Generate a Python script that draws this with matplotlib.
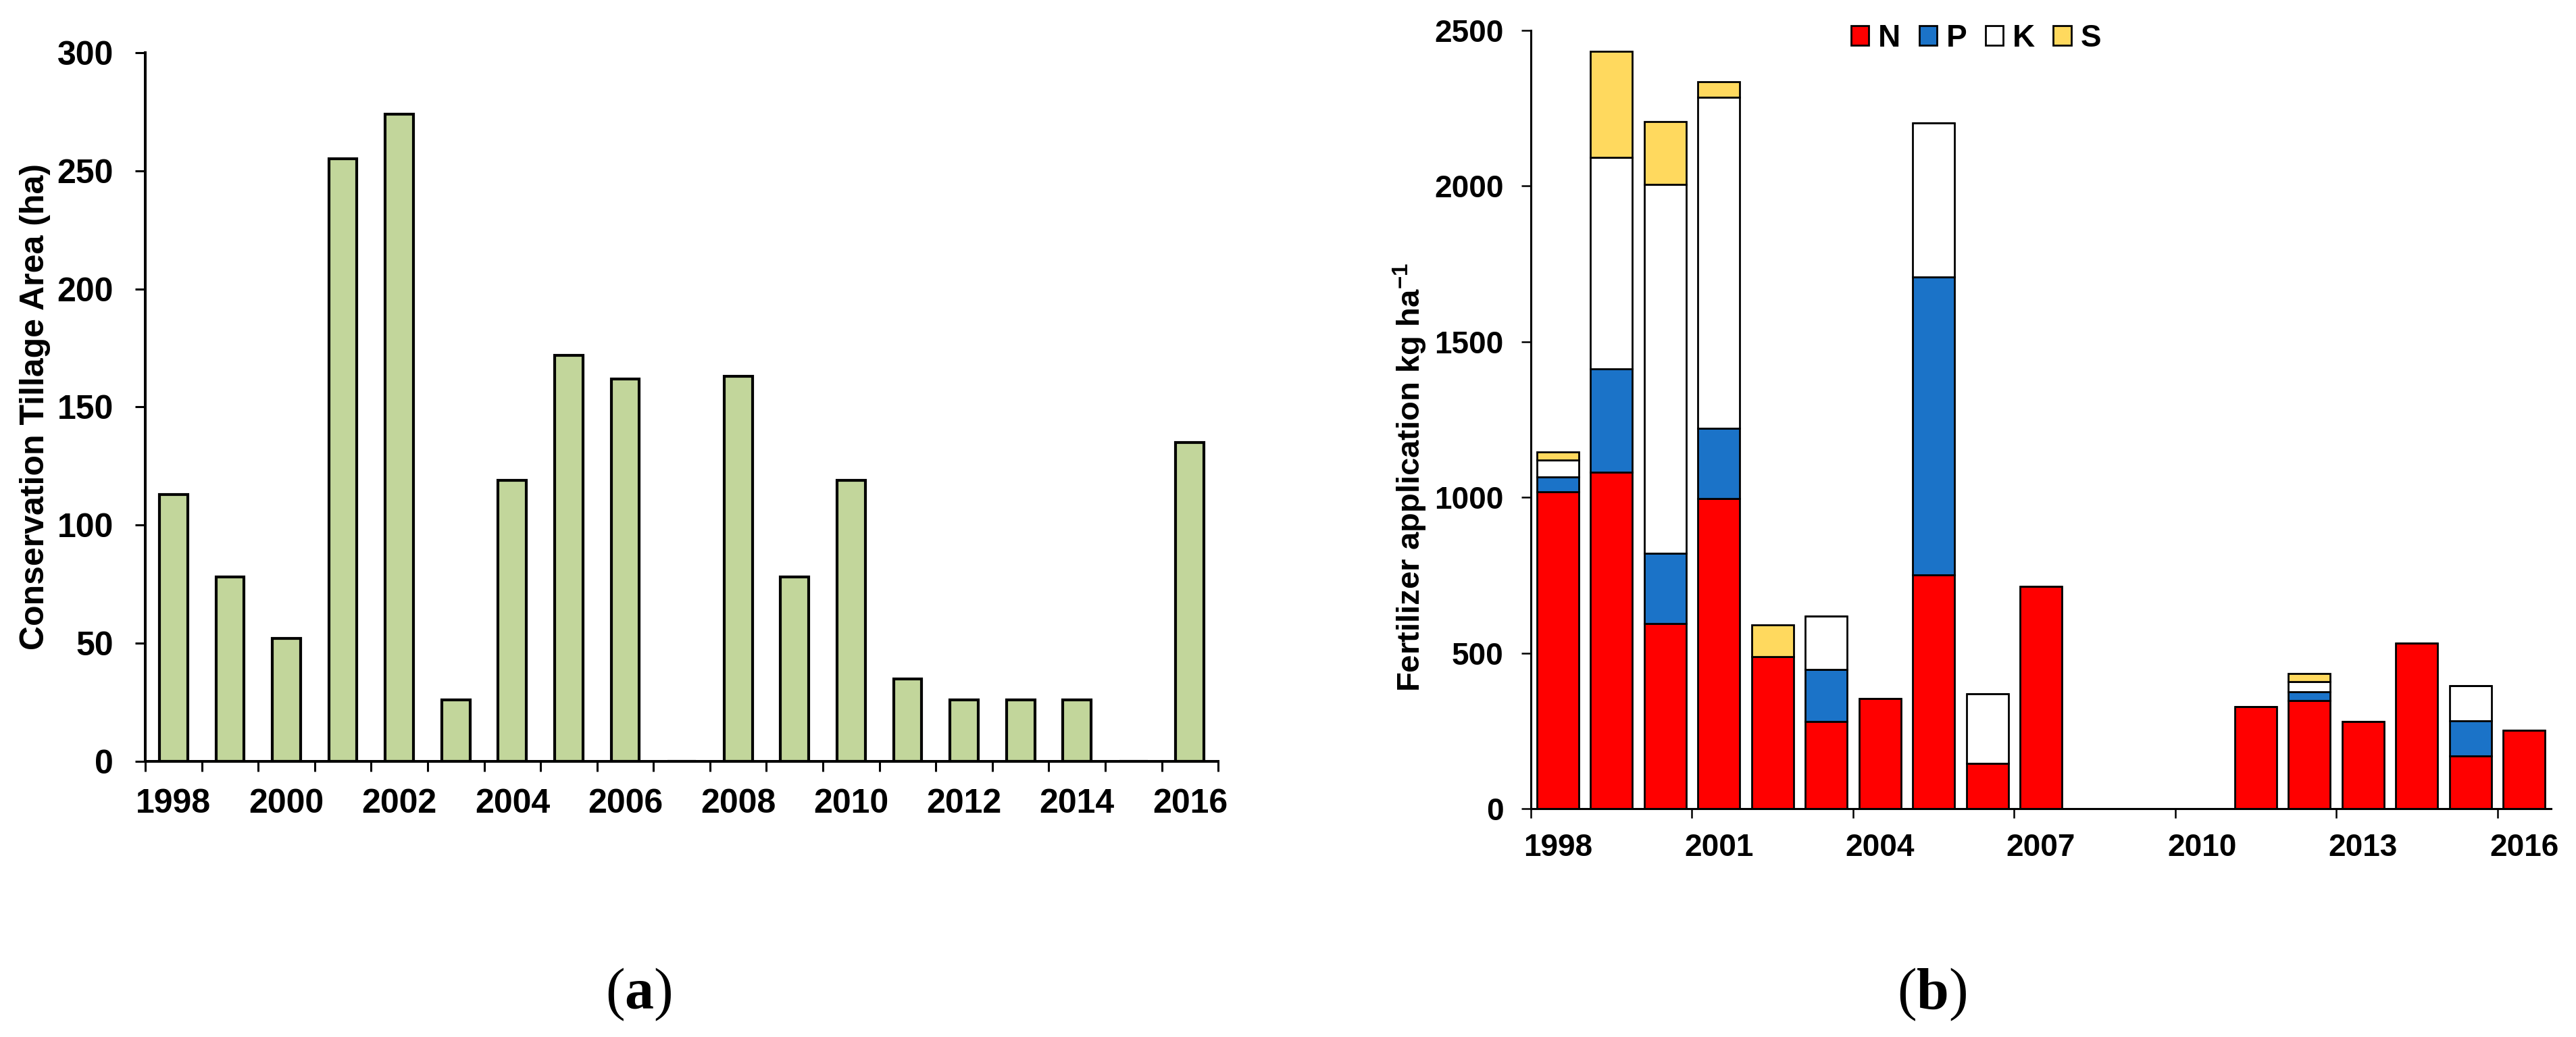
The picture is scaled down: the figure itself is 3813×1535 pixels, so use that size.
import numpy as np
import matplotlib
matplotlib.use('Agg')
import matplotlib.pyplot as plt

plt.rcParams['font.family'] = ['Liberation Sans', 'DejaVu Sans']
plt.rcParams['font.weight'] = 'bold'
plt.rcParams['axes.labelweight'] = 'bold'
plt.rcParams['mathtext.default'] = 'regular'
plt.rcParams['mathtext.fontset'] = 'custom'
plt.rcParams['mathtext.bf'] = 'Liberation Serif:bold'

# Data
years = list(range(1998, 2017))
tillage = [113, 78, 52, 255, 274, 26, 119, 172, 162, 0, 163, 78, 119, 35, 26, 26, 26, 0, 135]

n_app = [1018, 1080, 594, 997, 488, 279, 353, 750, 145, 713, 0, 0, 0, 328, 347, 281, 532, 170, 251]
p_app = [47, 332, 226, 225, 0, 168, 0, 958, 0, 0, 0, 0, 0, 0, 28, 0, 0, 112, 0]
k_app = [55, 681, 1186, 1063, 0, 171, 0, 494, 223, 0, 0, 0, 0, 0, 33, 0, 0, 112, 0]
s_app = [26, 339, 202, 51, 102, 0, 0, 0, 0, 0, 0, 0, 0, 0, 26, 0, 0, 0, 0]

fig = plt.figure(figsize=(38.13, 15.35), dpi=100)
ax1 = fig.add_axes([0.0564, 0.2658, 0.4165, 0.6834])
ax2 = fig.add_axes([0.5943, 0.2202, 0.3960, 0.7505])

x = np.arange(len(years))

# (a) conservation tillage area
ax1.bar(x, tillage, width=0.5, color='#C2D69B', edgecolor='black', linewidth=3)
ax1.set_xlim(-0.5, len(years) - 0.5)
ax1.set_ylim(0, 300)
ax1.set_yticks(np.arange(0, 301, 50))
ax1.set_xticks(np.arange(-0.5, len(years)), labels=[])
ax1.set_xticks(x[::2], labels=[str(y) for y in years[::2]], minor=True)
ax1.tick_params(axis='y', which='major', labelsize=36, length=11, width=2.2, pad=23)
ax1.tick_params(axis='x', which='major', length=11, width=2.2)
ax1.tick_params(axis='x', which='minor', labelsize=36, length=0, pad=29)
ax1.set_ylabel('Conservation Tillage Area (ha)', fontsize=36, fontweight='bold')
ax1.yaxis.set_label_coords(-0.088, 0.5)
for s in ['top', 'right']:
    ax1.spines[s].set_visible(False)
for s in ['left', 'bottom']:
    ax1.spines[s].set_linewidth(2.9)

# (b) fertilizer application, stacked
w = 0.78
bn = ax2.bar(x, n_app, width=w, color='#FF0000', edgecolor='black', linewidth=2)
bottom = np.array(n_app)
bp = ax2.bar(x, p_app, width=w, bottom=bottom, color='#1B73C8', edgecolor='black', linewidth=2)
bottom = bottom + np.array(p_app)
bk = ax2.bar(x, k_app, width=w, bottom=bottom, color='white', edgecolor='black', linewidth=2)
bottom = bottom + np.array(k_app)
bs = ax2.bar(x, s_app, width=w, bottom=bottom, color='#FFD95E', edgecolor='black', linewidth=2)

ax2.set_xlim(-0.5, len(years) - 0.5)
ax2.set_ylim(0, 2500)
ax2.set_yticks(np.arange(0, 2501, 500))
ax2.set_xticks(np.arange(-0.5, len(years) - 1, 3), labels=[])
ax2.set_xticks(x[::3], labels=[str(y) for y in years[::3]], minor=True)
ax2.tick_params(axis='y', which='major', labelsize=33, length=10, width=1.8, pad=19)
ax2.tick_params(axis='x', which='major', length=10, width=1.8)
ax2.tick_params(axis='x', which='minor', labelsize=33, length=0, pad=26)
ax2.set_ylabel('Fertilizer application kg ha$^{-1}$', fontsize=34, fontweight='bold')
ax2.yaxis.set_label_coords(-0.100, 0.426)
for s in ['top', 'right']:
    ax2.spines[s].set_visible(False)
for s in ['left', 'bottom']:
    ax2.spines[s].set_linewidth(2.2)

fig.legend(handles=[bn, bp, bk, bs], labels=['N', 'P', 'K', 'S'], loc='center',
           bbox_to_anchor=(2925 / 3813, 1 - 57 / 1535), ncol=4, frameon=False,
           fontsize=33, handlelength=0.57, handleheight=0.6, handletextpad=0.3,
           columnspacing=0.6, borderpad=0, borderaxespad=0)

# panel captions
fig.text(945 / 3813, 1 - 1493 / 1535, r'($\mathbf{a}$)', family='Liberation Serif',
         weight='normal', fontsize=62, ha='center', va='baseline')
fig.text(2860 / 3813, 1 - 1493 / 1535, r'($\mathbf{b}$)', family='Liberation Serif',
         weight='normal', fontsize=62, ha='center', va='baseline')

fig.savefig('out.png', dpi=100)
